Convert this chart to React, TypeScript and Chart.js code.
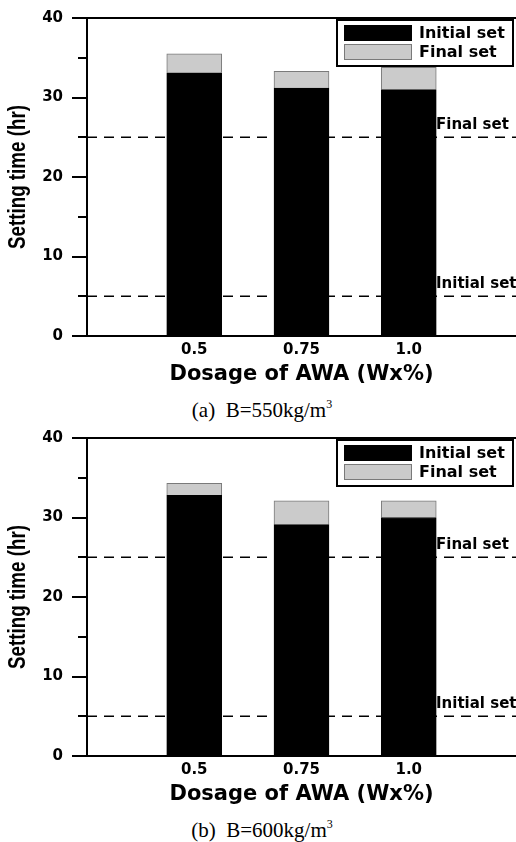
import React, { useEffect, useRef } from "react";
import { Chart, registerables } from "chart.js";

Chart.register(...registerables);

// ---------- data ----------
const categories = [0.5, 0.75, 1.0];
const tickLabels = ["0.5", "0.75", "1.0"];
const initialA = [33.1, 31.2, 31.0];
const finalA = [35.5, 33.3, 33.8];
const initialB = [32.8, 29.1, 30.0];
const finalB = [34.3, 32.1, 32.1];
const seriesLabels = ["Initial set", "Final set"];
const refValues = [25, 5];
const refLabels = ["Final set", "Initial set"];
const yMajorTicks = [0, 10, 20, 30, 40];
const yMinorTicks = [5, 15, 25, 35];
const xRange = [0.25, 1.25];
const yRange = [0, 40];
const yTitle = "Setting time (hr)";
const xTitle = "Dosage of AWA (Wx%)";
const panelTags = ["(a)", "(b)"];
const panelBinder = ["B=550kg/m", "B=600kg/m"];

const BOLD = '"DejaVu Sans", Verdana, sans-serif';
const ARIAL = '"Liberation Sans", Arial, sans-serif';
const SERIF = '"Liberation Serif", "Times New Roman", serif';

const overlayPlugin = {
  id: "overlay",
  afterDraw(chart: any) {
    const { ctx, chartArea } = chart;
    const { left, right, top, bottom } = chartArea;
    const y = chart.scales.y;
    ctx.save();
    // top frame line
    ctx.strokeStyle = "#000";
    ctx.lineWidth = 2;
    ctx.beginPath();
    ctx.moveTo(left - 1, top);
    ctx.lineTo(right, top);
    ctx.stroke();
    // minor ticks
    for (const v of yMinorTicks) {
      const py = Math.round(y.getPixelForValue(v));
      ctx.beginPath();
      ctx.moveTo(left - 9, py);
      ctx.lineTo(left, py);
      ctx.stroke();
    }
    // y axis title (condensed bold, rotated)
    ctx.save();
    ctx.font = `bold 23px ${ARIAL}`;
    const w = ctx.measureText(yTitle).width;
    const target = 144;
    ctx.translate(19, (top + bottom) / 2);
    ctx.rotate(-Math.PI / 2);
    ctx.scale(target / w, 1);
    ctx.fillStyle = "#000";
    ctx.textAlign = "center";
    ctx.textBaseline = "middle";
    ctx.fillText(yTitle, 0, 0);
    ctx.restore();
    // reference line labels
    ctx.fillStyle = "#000";
    ctx.font = `bold 15px ${BOLD}`;
    ctx.textAlign = "left";
    ctx.textBaseline = "middle";
    refValues.forEach((v, k) => {
      const py = y.getPixelForValue(v);
      ctx.fillText(refLabels[k], right - 80, py - 12);
    });
    // legend
    const bx = right - 179;
    const by = top + 2;
    const bw = 176;
    const bh = 46;
    ctx.fillStyle = "#fff";
    ctx.fillRect(bx, by, bw, bh);
    ctx.strokeStyle = "#000";
    ctx.lineWidth = 2;
    ctx.strokeRect(bx, by, bw, bh);
    const items = chart.data.datasets.filter((d: any) => d.type === "bar");
    items.forEach((d: any, i: number) => {
      const sy = by + 5 + i * 19;
      ctx.fillStyle = d.backgroundColor;
      ctx.fillRect(bx + 7, sy, 68, 16);
      ctx.strokeStyle = d.borderColor;
      ctx.lineWidth = 1;
      ctx.strokeRect(bx + 7.5, sy + 0.5, 67, 15);
      ctx.fillStyle = "#000";
      ctx.font = `bold 16px ${BOLD}`;
      ctx.textBaseline = "middle";
      ctx.fillText(d.label, bx + 82, sy + 8.5);
    });
    ctx.restore();
  },
};

function SetChart({ initial, final }: { initial: number[]; final: number[] }) {
  const ref = useRef<HTMLCanvasElement | null>(null);
  useEffect(() => {
    if (!ref.current) return;
    const chart = new Chart(ref.current, {
      type: "bar",
      data: {
        datasets: [
          {
            type: "bar",
            label: seriesLabels[0],
            data: categories.map((c, i) => ({ x: c, y: initial[i] })),
            backgroundColor: "#000000",
            borderColor: "#000000",
            borderWidth: 1,
            barThickness: 55,
            grouped: false,
            order: 0,
          },
          {
            type: "bar",
            label: seriesLabels[1],
            data: categories.map((c, i) => ({ x: c, y: [initial[i], final[i]] })),
            backgroundColor: "#cbcbcb",
            borderColor: "#7a7a7a",
            borderWidth: 1,
            barThickness: 55,
            grouped: false,
            order: 0,
          },
          ...refValues.map((v, k) => ({
            type: "line",
            label: refLabels[k],
            data: [
              { x: xRange[0], y: v },
              { x: xRange[1], y: v },
            ],
            borderColor: "#000000",
            borderWidth: 1.6,
            borderDash: [10, 7],
            pointRadius: 0,
            fill: false,
            order: 1,
          })),
        ] as any,
      },
      options: {
        animation: false,
        responsive: false,
        maintainAspectRatio: false,
        layout: { padding: { top: 15, left: 0, right: 0, bottom: 5 } },
        plugins: { legend: { display: false }, tooltip: { enabled: false } },
        scales: {
          x: {
            type: "linear",
            offset: false,
            min: xRange[0],
            max: xRange[1],
            afterBuildTicks: (s: any) => {
              s.ticks = categories.map((v) => ({ value: v }));
            },
            afterFit: (s: any) => {
              s.height = 51;
            },
            grid: { display: true, drawOnChartArea: false, drawTicks: false, offset: false },
            border: { display: true, color: "#000", width: 2 },
            ticks: {
              autoSkip: false,
              maxRotation: 0,
              padding: 5,
              color: "#000",
              font: { family: BOLD, size: 15, weight: "bold" },
              callback: (v: any) => {
                const i = categories.indexOf(Number(v));
                return i >= 0 ? tickLabels[i] : "";
              },
            },
            title: {
              display: true,
              text: xTitle,
              color: "#000",
              font: { family: BOLD, size: 21, weight: "bold" },
              padding: { top: 0, bottom: 0 },
            },
          },
          y: {
            type: "linear",
            min: yRange[0],
            max: yRange[1],
            afterBuildTicks: (s: any) => {
              s.ticks = yMajorTicks.map((v) => ({ value: v }));
            },
            afterFit: (s: any) => {
              s.width = 87;
            },
            grid: {
              display: true,
              drawOnChartArea: false,
              drawTicks: true,
              tickLength: 15,
              color: "#000",
              lineWidth: 2,
            },
            border: { display: true, color: "#000", width: 2 },
            ticks: {
              padding: 9,
              color: "#000",
              font: { family: BOLD, size: 15, weight: "bold" },
            },
            title: { display: false },
          },
        },
      } as any,
      plugins: [overlayPlugin],
    });
    return () => chart.destroy();
  }, [initial, final]);
  return <canvas ref={ref} width={516} height={392} style={{ display: "block", width: 516, height: 392 }} />;
}

function Panel({ idx, initial, final }: { idx: number; initial: number[]; final: number[] }) {
  return (
    <div style={{ position: "relative", width: 516, height: 420 }}>
      <SetChart initial={initial} final={final} />
      <div
        style={{
          position: "absolute",
          left: 4,
          top: 398,
          width: 516,
          textAlign: "center",
          fontFamily: SERIF,
          fontSize: 21,
          lineHeight: "24px",
          color: "#000",
          whiteSpace: "pre",
        }}
      >
        {panelTags[idx] + "  " + panelBinder[idx]}
        <span style={{ fontSize: 12, position: "relative", top: -9 }}>3</span>
      </div>
    </div>
  );
}

export default function App() {
  useEffect(() => {
    document.body.style.margin = "0";
    document.body.style.background = "#fff";
  }, []);
  return (
    <div style={{ width: 516, height: 842, overflow: "hidden", background: "#fff" }}>
      <Panel idx={0} initial={initialA} final={finalA} />
      <Panel idx={1} initial={initialB} final={finalB} />
    </div>
  );
}
